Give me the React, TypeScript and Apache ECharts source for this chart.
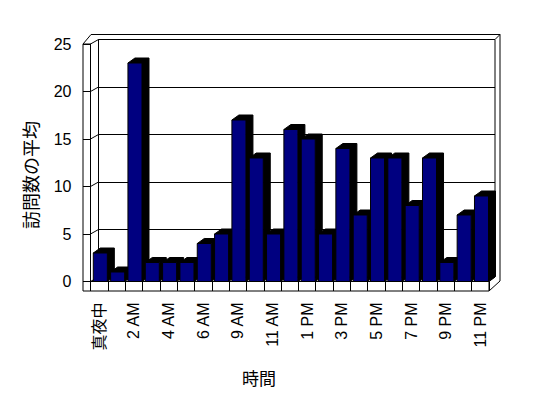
import React, { useEffect, useRef } from "react";
import * as echarts from "echarts";

const categories = [
  "真夜中", "1 AM", "2 AM", "3 AM", "4 AM", "5 AM", "6 AM", "8 AM", "9 AM", "10 AM", "11 AM", "正午",
  "1 PM", "2 PM", "3 PM", "4 PM", "5 PM", "6 PM", "7 PM", "8 PM", "9 PM", "10 PM", "11 PM",
];
const visits = [3, 1, 23, 2, 2, 2, 4, 5, 17, 13, 5, 16, 15, 5, 14, 7, 13, 13, 8, 13, 2, 7, 9];
const yTicks = [0, 5, 10, 15, 20, 25];
const yAxisTitle = "訪問数の平均";
const xAxisTitle = "時間";

const FONT = "'Liberation Sans', Arial, 'Noto Sans CJK JP', sans-serif";
const CJK = "'Noto Sans CJK JP', sans-serif";

// layout (styling only)
const F = { left: 90.5, top: 44, width: 398.5, height: 237.5 };
const B = { left: 98.5, top: 39.5, width: 396.5, height: 237.5 };
const WALL_OUT = 83;
const FLOOR_BOTTOM = 291;
const OUTER_TOP = 34.5;
const OUTER_RIGHT = 500;

export default function App() {
  const ref = useRef<HTMLDivElement>(null);
  useEffect(() => {
    document.body.style.margin = "0";
    const chart = echarts.init(ref.current!, null, { renderer: "svg" });
    const line = { color: "#000", width: 1 };
    const option: any = {
      animation: false,
      backgroundColor: "#fff",
      grid: [
        { ...F, show: false, containLabel: false },
        { ...B, show: true, borderColor: "#000", borderWidth: 1, backgroundColor: "transparent", containLabel: false },
      ],
      xAxis: [
        {
          type: "category",
          gridIndex: 0,
          data: categories,
          boundaryGap: true,
          axisLine: { show: true, lineStyle: line },
          axisTick: { show: true, interval: 0, length: 9.5, lineStyle: line },
          axisLabel: { interval: 1, rotate: 90, margin: 21, color: "#000", fontSize: 16, fontFamily: FONT },
          splitLine: { show: false },
        },
        { type: "category", gridIndex: 1, data: categories, show: false },
      ],
      yAxis: [
        {
          type: "value",
          gridIndex: 0,
          min: 0,
          max: 25,
          interval: 5,
          axisLine: { show: true, lineStyle: line },
          axisTick: { show: true, length: 7.5, lineStyle: line },
          axisLabel: { margin: 19, color: "#000", fontSize: 16, fontFamily: FONT },
          splitLine: { show: false },
        },
        {
          type: "value",
          gridIndex: 1,
          min: 0,
          max: 25,
          interval: 5,
          axisLine: { show: false },
          axisTick: { show: false },
          axisLabel: { show: false },
          splitLine: { show: true, lineStyle: line },
        },
      ],
      series: [
        {
          type: "custom",
          xAxisIndex: 0,
          yAxisIndex: 0,
          z: 5,
          data: visits.map((v, i) => [i, v]),
          encode: { x: 0, y: 1 },
          renderItem: (params: any, api: any) => {
            const idx = api.value(0);
            const val = api.value(1);
            const top = api.coord([idx, val]);
            const base = api.coord([idx, 0]);
            const cw = api.size([1, 0])[0];
            const L = top[0] - cw / 2 + 2.8;
            const W = cw * 0.81;
            const R = L + W;
            const T = top[1];
            const Bt = base[1];
            const dx = 7;
            const dy = 5;
            return {
              type: "group",
              children: [
                {
                  type: "polygon",
                  shape: { points: [[L, T], [L + dx, T - dy], [R + dx, T - dy], [R + dx, Bt - dy], [R, Bt], [R, T]] },
                  style: { fill: "#000", stroke: "#000", lineWidth: 1 },
                },
                {
                  type: "rect",
                  shape: { x: L, y: T, width: W, height: Bt - T },
                  style: { fill: "#000080", stroke: "#000", lineWidth: 1 },
                },
              ],
            };
          },
        },
      ],
    };
    chart.setOption(option);

    const Fr = F.left + F.width;
    const Fb = F.top + F.height;
    const Br = B.left + B.width;
    const Bb = B.top + B.height;
    const st = { stroke: "#000", lineWidth: 1, fill: null };
    const els: any[] = [];
    yTicks.forEach((v) => {
      const fy = chart.convertToPixel({ yAxisIndex: 0 }, v) as number;
      const by = chart.convertToPixel({ yAxisIndex: 1 }, v) as number;
      els.push({ type: "line", z: 1, shape: { x1: F.left, y1: fy, x2: B.left, y2: by }, style: st });
    });
    els.push(
      {
        type: "polyline",
        z: 1,
        shape: {
          points: [
            [WALL_OUT, FLOOR_BOTTOM], [WALL_OUT, F.top], [WALL_OUT + 8, OUTER_TOP], [OUTER_RIGHT, OUTER_TOP],
            [OUTER_RIGHT, Bb + 4], [Fr, FLOOR_BOTTOM], [WALL_OUT, FLOOR_BOTTOM],
          ],
        },
        style: st,
      },
      { type: "line", z: 1, shape: { x1: WALL_OUT, y1: F.top, x2: F.left, y2: F.top }, style: st },
      { type: "line", z: 1, shape: { x1: Br, y1: B.top, x2: OUTER_RIGHT, y2: OUTER_TOP }, style: st },
      { type: "line", z: 1, shape: { x1: Fr, y1: Fb, x2: Br, y2: Bb }, style: st },
      { type: "line", z: 1, shape: { x1: Fr, y1: Fb, x2: Fr, y2: FLOOR_BOTTOM }, style: st },
      {
        type: "text",
        z: 1,
        x: 30,
        y: 175,
        rotation: Math.PI / 2,
        style: { text: yAxisTitle, fill: "#000", fontSize: 18, fontFamily: CJK, textAlign: "center", textVerticalAlign: "middle" },
      },
      {
        type: "text",
        z: 1,
        x: 259,
        y: 377,
        style: { text: xAxisTitle, fill: "#000", fontSize: 17, fontFamily: CJK, textAlign: "center", textVerticalAlign: "middle" },
      }
    );
    chart.setOption({ graphic: { elements: els } });
    return () => chart.dispose();
  }, []);
  return <div ref={ref} style={{ position: "absolute", left: 0, top: 0, width: 548, height: 398 }} />;
}
